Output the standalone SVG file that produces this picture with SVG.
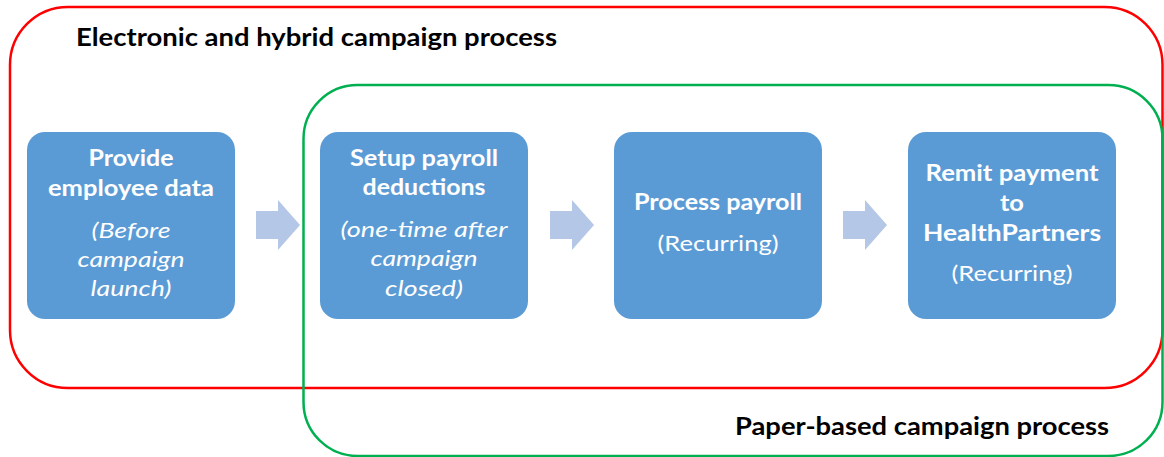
<svg xmlns="http://www.w3.org/2000/svg" width="1164" height="457" viewBox="0 0 1164 457">
  <style>
    .frame { fill: none; stroke-width: 2.5; }
    .box { fill: #5B9BD5; }
    .arrow { fill: #B4C7E7; }
    .t { font-family: Lato, "Open Sans", "Liberation Sans", sans-serif; fill: #FFFFFF; text-anchor: middle; font-size: 22px; }
    .b { font-weight: bold; }
    .i { font-style: italic; }
    .title { font-family: Lato, "Open Sans", "Liberation Sans", sans-serif; font-weight: bold; font-size: 25px; fill: #000000; }
  </style>
  <rect width="1164" height="457" fill="#FFFFFF"/>

  <g id="group-electronic">
    <rect class="frame" x="10" y="7" width="1152.5" height="381" rx="58" ry="58" stroke="#FF0000"/>
    <text class="title" x="76" y="46" textLength="481" lengthAdjust="spacingAndGlyphs">Electronic and hybrid campaign process</text>
  </g>
  <g id="group-paper">
    <rect class="frame" x="303.5" y="85" width="859" height="371" rx="54" ry="54" stroke="#00B050"/>
    <text class="title" x="735" y="435" textLength="374" lengthAdjust="spacingAndGlyphs">Paper-based campaign process</text>
  </g>

  <g id="node-provide">
    <rect class="box" x="27" y="132" width="208" height="187" rx="18" ry="18"/>
    <text class="t b" x="131" y="166" textLength="85" lengthAdjust="spacingAndGlyphs">Provide</text>
    <text class="t b" x="131" y="196" textLength="166" lengthAdjust="spacingAndGlyphs">employee data</text>
    <text class="t i" x="131" y="238" textLength="79" lengthAdjust="spacingAndGlyphs">(Before</text>
    <text class="t i" x="131" y="267" textLength="107" lengthAdjust="spacingAndGlyphs">campaign</text>
    <text class="t i" x="131" y="296" textLength="81" lengthAdjust="spacingAndGlyphs">launch)</text>
  </g>
  <g id="node-setup">
    <rect class="box" x="320" y="132" width="208" height="187" rx="18" ry="18"/>
    <text class="t b" x="424" y="166" textLength="148" lengthAdjust="spacingAndGlyphs">Setup payroll</text>
    <text class="t b" x="424" y="195" textLength="123" lengthAdjust="spacingAndGlyphs">deductions</text>
    <text class="t i" x="424" y="237" textLength="167" lengthAdjust="spacingAndGlyphs">(one-time after</text>
    <text class="t i" x="424" y="266" textLength="107" lengthAdjust="spacingAndGlyphs">campaign</text>
    <text class="t i" x="424" y="296" textLength="78" lengthAdjust="spacingAndGlyphs">closed)</text>
  </g>
  <g id="node-process">
    <rect class="box" x="614" y="132" width="208" height="187" rx="18" ry="18"/>
    <text class="t b" x="718" y="210" textLength="168" lengthAdjust="spacingAndGlyphs">Process payroll</text>
    <text class="t" x="718" y="251" textLength="121" lengthAdjust="spacingAndGlyphs">(Recurring)</text>
  </g>
  <g id="node-remit">
    <rect class="box" x="908" y="132" width="208" height="187" rx="18" ry="18"/>
    <text class="t b" x="1012" y="181" textLength="173" lengthAdjust="spacingAndGlyphs">Remit payment</text>
    <text class="t b" x="1012" y="211" textLength="24" lengthAdjust="spacingAndGlyphs">to</text>
    <text class="t b" x="1012" y="241" textLength="178" lengthAdjust="spacingAndGlyphs">HealthPartners</text>
    <text class="t" x="1012" y="281" textLength="121" lengthAdjust="spacingAndGlyphs">(Recurring)</text>
  </g>

  <g id="connectors">
    <polygon class="arrow" points="256,211 278,211 278,200 300,225 278,250 278,239 256,239"/>
    <polygon class="arrow" points="550,211 572,211 572,200 594,225 572,250 572,239 550,239"/>
    <polygon class="arrow" points="843,211 865,211 865,200 887,225 865,250 865,239 843,239"/>
  </g>
</svg>
